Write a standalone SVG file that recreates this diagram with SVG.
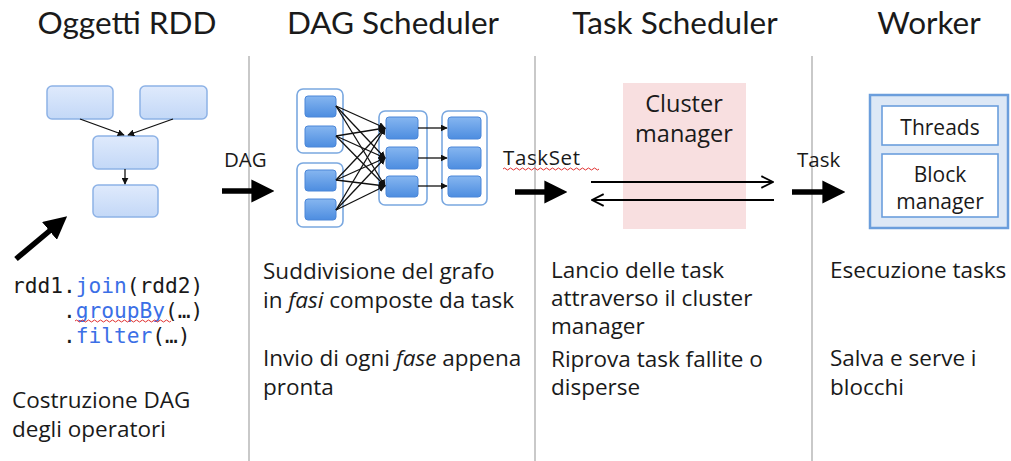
<svg xmlns="http://www.w3.org/2000/svg" width="1011" height="461" viewBox="0 0 1011 461">
  <style>
    .title { font-family: Lato, "Open Sans", sans-serif; font-size: 31.5px; fill: #1a1a1a; text-anchor: middle; }
    .body { font-family: "Open Sans", "Noto Sans", sans-serif; font-size: 22.5px; fill: #1a1a1a; }
    .lbl { font-family: "Open Sans", "Noto Sans", sans-serif; font-size: 20.5px; fill: #1a1a1a; }
    .box { font-family: "Open Sans", "Noto Sans", sans-serif; font-size: 21px; fill: #1a1a1a; text-anchor: middle; }
    .cm { font-family: "Open Sans", "Noto Sans", sans-serif; font-size: 23.5px; fill: #1a1a1a; text-anchor: middle; }
    .code { font-family: "DejaVu Sans Mono", "Liberation Mono", monospace; font-size: 21.2px; fill: #1a1a1a; }
    .kw { fill: #3b6fe6; }
    .sep { stroke: #c9c9c9; stroke-width: 2; }
    .rdd { fill: url(#gLight); stroke: #8db2e6; stroke-width: 1.5; }
    .part { fill: url(#gBlue); stroke: #4a86d8; stroke-width: 1; }
    .stage { fill: #ffffff; stroke: #7aa8e0; stroke-width: 1.6; }
    .thin { stroke: #111; stroke-width: 1.3; fill: none; }
    .big { stroke: #000; stroke-width: 5.5; fill: none; }
    .msg { stroke: #000; stroke-width: 2; fill: none; }
    .squig { stroke: #e03030; stroke-width: 1; fill: none; }
  </style>
  <defs>
    <linearGradient id="gLight" x1="0" y1="0" x2="0" y2="1">
      <stop offset="0" stop-color="#dfeafc"/>
      <stop offset="1" stop-color="#c3d8f7"/>
    </linearGradient>
    <linearGradient id="gBlue" x1="0" y1="0" x2="0" y2="1">
      <stop offset="0" stop-color="#86b6f0"/>
      <stop offset="1" stop-color="#4d8de0"/>
    </linearGradient>
    <marker id="headSmall" viewBox="0 0 10 10" refX="9" refY="5" markerWidth="7" markerHeight="7" markerUnits="userSpaceOnUse" orient="auto">
      <path d="M0,0 L10,5 L0,10 z" fill="#111"/>
    </marker>
    <marker id="headBig" viewBox="0 0 10 10" refX="2" refY="5" markerWidth="4.2" markerHeight="4.2" orient="auto">
      <path d="M0,0 L10,5 L0,10 z" fill="#000"/>
    </marker>
    <marker id="headOpen" viewBox="0 0 12 12" refX="11" refY="6" markerWidth="14" markerHeight="14" markerUnits="userSpaceOnUse" orient="auto">
      <path d="M1,1 L11,6 L1,11" fill="none" stroke="#000" stroke-width="1.6"/>
    </marker>
    <path id="squiggle" d="M0,0 q1.5,-2 3,0 t3,0 t3,0 t3,0 t3,0 t3,0 t3,0 t3,0 t3,0 t3,0 t3,0 t3,0 t3,0 t3,0 t3,0 t3,0 t3,0 t3,0 t3,0 t3,0 t3,0 t3,0 t3,0 t3,0 t3,0 t3,0 t3,0 t3,0 t3,0 t3,0 t3,0 t3,0"/>
  </defs>

  <rect width="1011" height="461" fill="#ffffff"/>

  <!-- column separators -->
  <g id="separators">
    <line class="sep" x1="249" y1="56" x2="249" y2="461"/>
    <line class="sep" x1="535" y1="56" x2="535" y2="461"/>
    <line class="sep" x1="812" y1="56" x2="812" y2="461"/>
  </g>

  <!-- column headings -->
  <g id="titles">
    <text class="title" x="127" y="34">Oggetti RDD</text>
    <text class="title" x="393" y="34">DAG Scheduler</text>
    <text class="title" x="675" y="34">Task Scheduler</text>
    <text class="title" x="929" y="34">Worker</text>
  </g>

  <!-- RDD objects -->
  <g id="rdd-a"><rect class="rdd" x="47" y="86" width="66" height="33" rx="5"/></g>
  <g id="rdd-b"><rect class="rdd" x="140" y="86" width="67" height="33" rx="5"/></g>
  <g id="rdd-join"><rect class="rdd" x="93" y="136" width="65" height="33" rx="5"/></g>
  <g id="rdd-out"><rect class="rdd" x="93" y="185" width="65" height="32" rx="5"/></g>

  <!-- DAG scheduler stages -->
  <g id="stage-1">
    <rect class="stage" x="297" y="89" width="46" height="64" rx="6"/>
    <rect class="part" x="305" y="96" width="31" height="21" rx="3"/>
    <rect class="part" x="305" y="126" width="31" height="21" rx="3"/>
  </g>
  <g id="stage-2">
    <rect class="stage" x="297" y="163" width="46" height="64" rx="6"/>
    <rect class="part" x="305" y="170" width="31" height="21" rx="3"/>
    <rect class="part" x="305" y="199" width="31" height="21" rx="3"/>
  </g>
  <g id="stage-3">
    <rect class="stage" x="379" y="111" width="48" height="94" rx="6"/>
    <rect class="part" x="386" y="117" width="32" height="22" rx="3"/>
    <rect class="part" x="386" y="147" width="32" height="22" rx="3"/>
    <rect class="part" x="386" y="176" width="32" height="21" rx="3"/>
  </g>
  <g id="stage-4">
    <rect class="stage" x="442" y="111" width="45" height="94" rx="6"/>
    <rect class="part" x="448" y="117" width="33" height="22" rx="3"/>
    <rect class="part" x="448" y="147" width="33" height="22" rx="3"/>
    <rect class="part" x="448" y="176" width="33" height="21" rx="3"/>
  </g>

  <!-- cluster manager -->
  <g id="cluster-manager">
    <rect x="623" y="83" width="123" height="146" fill="#f8dfe0"/>
    <text class="cm" x="684" y="112">Cluster</text>
    <text class="cm" x="684" y="142">manager</text>
  </g>

  <!-- worker -->
  <g id="worker">
    <rect x="870" y="95" width="138" height="133" fill="#dde8f6" stroke="#6b9edc" stroke-width="2.5"/>
    <rect x="882" y="106" width="116" height="39" fill="#ffffff" stroke="#6b9edc" stroke-width="1.6"/>
    <text class="box" x="940" y="135">Threads</text>
    <rect x="882" y="154" width="116" height="63" fill="#ffffff" stroke="#6b9edc" stroke-width="1.6"/>
    <text class="box" x="940" y="182">Block</text>
    <text class="box" x="940" y="209">manager</text>
  </g>

  <!-- connectors -->
  <g id="connectors">
    <!-- RDD lineage -->
    <line class="thin" x1="80" y1="119" x2="124" y2="135" marker-end="url(#headSmall)"/>
    <line class="thin" x1="173" y1="119" x2="128" y2="135" marker-end="url(#headSmall)"/>
    <line class="thin" x1="125" y1="169" x2="125" y2="184" marker-end="url(#headSmall)"/>

    <!-- shuffle dependencies -->
    <line class="thin" x1="336" y1="106" x2="385" y2="128" marker-end="url(#headSmall)"/>
    <line class="thin" x1="336" y1="106" x2="385" y2="158" marker-end="url(#headSmall)"/>
    <line class="thin" x1="336" y1="106" x2="385" y2="186" marker-end="url(#headSmall)"/>
    <line class="thin" x1="336" y1="136" x2="385" y2="128" marker-end="url(#headSmall)"/>
    <line class="thin" x1="336" y1="136" x2="385" y2="158" marker-end="url(#headSmall)"/>
    <line class="thin" x1="336" y1="136" x2="385" y2="186" marker-end="url(#headSmall)"/>
    <line class="thin" x1="336" y1="180" x2="385" y2="128" marker-end="url(#headSmall)"/>
    <line class="thin" x1="336" y1="180" x2="385" y2="158" marker-end="url(#headSmall)"/>
    <line class="thin" x1="336" y1="180" x2="385" y2="186" marker-end="url(#headSmall)"/>
    <line class="thin" x1="336" y1="210" x2="385" y2="128" marker-end="url(#headSmall)"/>
    <line class="thin" x1="336" y1="210" x2="385" y2="158" marker-end="url(#headSmall)"/>
    <line class="thin" x1="336" y1="210" x2="385" y2="186" marker-end="url(#headSmall)"/>

    <!-- narrow dependencies -->
    <line class="thin" x1="418" y1="128" x2="447" y2="128" marker-end="url(#headSmall)"/>
    <line class="thin" x1="418" y1="158" x2="447" y2="158" marker-end="url(#headSmall)"/>
    <line class="thin" x1="418" y1="186" x2="447" y2="186" marker-end="url(#headSmall)"/>

    <!-- hand-off arrows -->
    <line class="big" x1="16" y1="259" x2="53" y2="228" marker-end="url(#headBig)"/>
    <line class="big" x1="222" y1="191" x2="256" y2="191" marker-end="url(#headBig)"/>
    <line class="big" x1="515" y1="192" x2="549" y2="192" marker-end="url(#headBig)"/>
    <line class="big" x1="792" y1="192" x2="827" y2="192" marker-end="url(#headBig)"/>

    <!-- scheduler / cluster manager exchange -->
    <line class="msg" x1="591" y1="182" x2="773" y2="182" marker-end="url(#headOpen)"/>
    <line class="msg" x1="774" y1="200" x2="592" y2="200" marker-end="url(#headOpen)"/>
  </g>

  <!-- connector labels -->
  <g id="labels">
    <text class="lbl" x="224" y="167">DAG</text>
    <text class="lbl" x="503" y="165" textLength="77">TaskSet</text>
    <use href="#squiggle" x="503" y="169" class="squig"/>
    <text class="lbl" x="797" y="167">Task</text>
  </g>

  <!-- code snippet -->
  <g id="code">
    <text class="code" x="12" y="293">rdd1.<tspan class="kw">join</tspan>(rdd2)</text>
    <text class="code" x="12" y="318" xml:space="preserve">    .<tspan class="kw">groupBy</tspan>(…)</text>
    <text class="code" x="12" y="343" xml:space="preserve">    .<tspan class="kw">filter</tspan>(…)</text>
    <svg x="75" y="318" width="98" height="6" overflow="hidden">
      <use href="#squiggle" x="0" y="3" class="squig"/>
    </svg>
  </g>

  <!-- descriptions -->
  <g id="descriptions">
    <text class="body" x="12" y="408">Costruzione DAG</text>
    <text class="body" x="12" y="437">degli operatori</text>

    <text class="body" x="263" y="279">Suddivisione del grafo</text>
    <text class="body" x="263" y="308">in <tspan font-style="italic">fasi</tspan> composte da task</text>
    <text class="body" x="263" y="366">Invio di ogni <tspan font-style="italic">fase</tspan> appena</text>
    <text class="body" x="263" y="395">pronta</text>

    <text class="body" x="551" y="278">Lancio delle task</text>
    <text class="body" x="551" y="306">attraverso il cluster</text>
    <text class="body" x="551" y="334">manager</text>
    <text class="body" x="551" y="367">Riprova task fallite o</text>
    <text class="body" x="551" y="395">disperse</text>

    <text class="body" x="830" y="278">Esecuzione tasks</text>
    <text class="body" x="830" y="366">Salva e serve i</text>
    <text class="body" x="830" y="395">blocchi</text>
  </g>
</svg>
